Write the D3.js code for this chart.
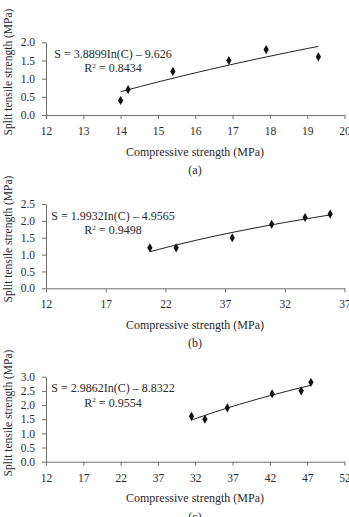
<!DOCTYPE html>
<html>
<head>
<meta charset="utf-8">
<script src="https://cdn.jsdelivr.net/npm/d3@7/dist/d3.min.js"></script>
<style>
  html, body { margin: 0; padding: 0; background: #fff; }
  svg { display: block; }
  text { font-family: "Liberation Serif", "Times New Roman", serif; fill: #2a2a2a; }
</style>
</head>
<body>
<svg id="chart" width="349" height="517"></svg>
<script>
// ---------- Data ----------
// Panel (a)
const compA = [14.0, 14.2, 15.4, 16.9, 17.9, 19.3];
const splitA = [0.4, 0.7, 1.2, 1.5, 1.8, 1.6];
const xTicksA = [12, 13, 14, 15, 16, 17, 18, 19, 20];
const xTickLabelsA = ["12", "13", "14", "15", "16", "17", "18", "19", "20"];
const yTicksA = [0.0, 0.5, 1.0, 1.5, 2.0];
const fitA = [3.8899, -9.626];
const eqA = ["S = 3.8899In(C) \u2013 9.626", "0.8434"];

// Panel (b)
const compB = [20.7, 22.9, 27.6, 30.9, 33.7, 35.8];
const splitB = [1.2, 1.2, 1.5, 1.9, 2.1, 2.2];
const xTicksB = [12, 17, 22, 27, 32, 37];
const xTickLabelsB = ["12", "17", "22", "37", "32", "37"];
const yTicksB = [0.0, 0.5, 1.0, 1.5, 2.0, 2.5];
const fitB = [1.9932, -4.9565];
const eqB = ["S = 1.9932In(C) \u2013 4.9565", "0.9498"];

// Panel (c)
const compC = [31.5, 33.3, 36.3, 42.3, 46.2, 47.5];
const splitC = [1.6, 1.5, 1.9, 2.4, 2.5, 2.8];
const xTicksC = [12, 17, 22, 27, 32, 37, 42, 47, 52];
const xTickLabelsC = ["12", "17", "22", "37", "32", "37", "42", "47", "52"];
const yTicksC = [0.0, 0.5, 1.0, 1.5, 2.0, 2.5, 3.0];
const fitC = [2.9862, -8.8322];
const eqC = ["S = 2.9862In(C) \u2013 8.8322", "0.9554"];

const panelLabels = ["(a)", "(b)", "(c)"];
const xTitle = "Compressive strength (MPa)";
const yTitle = "Split tensile strength (MPa)";

// ---------- Layout ----------
const panels = [
  { x: compA, y: splitA, xt: xTicksA, xl: xTickLabelsA, yt: yTicksA, fit: fitA, eq: eqA,
    label: panelLabels[0], top: 42.3, bottom: 115, titleMid: 72 },
  { x: compB, y: splitB, xt: xTicksB, xl: xTickLabelsB, yt: yTicksB, fit: fitB, eq: eqB,
    label: panelLabels[1], top: 204, bottom: 288.3, titleMid: 239 },
  { x: compC, y: splitC, xt: xTicksC, xl: xTickLabelsC, yt: yTicksC, fit: fitC, eq: eqC,
    label: panelLabels[2], top: 376.7, bottom: 461.7, titleMid: 413 }
];

const left = 46, right = 344.5;
const svg = d3.select("#chart");
const axisColor = "#6e6e6e";

panels.forEach(p => {
  const xs = d3.scaleLinear().domain([p.xt[0], p.xt[p.xt.length - 1]]).range([left, right]);
  const ys = d3.scaleLinear().domain([p.yt[0], p.yt[p.yt.length - 1]]).range([p.bottom, p.top]);
  const g = svg.append("g");

  // x axis
  const xAxis = d3.axisBottom(xs).tickValues(p.xt)
    .tickFormat((d, i) => p.xl[i]).tickSizeInner(4).tickSizeOuter(0).tickPadding(8);
  const gx = g.append("g").attr("transform", `translate(0,${p.bottom})`).call(xAxis);
  gx.selectAll("path, line").attr("stroke", axisColor).attr("stroke-width", 1);
  gx.selectAll("text").attr("font-size", 11.5).attr("font-family", "Liberation Serif").attr("fill", "#2a2a2a");

  // y axis
  const yAxis = d3.axisLeft(ys).tickValues(p.yt)
    .tickFormat(d3.format(".1f")).tickSizeInner(4).tickSizeOuter(0).tickPadding(7);
  const gy = g.append("g").attr("transform", `translate(${left},0)`).call(yAxis);
  gy.selectAll("path, line").attr("stroke", axisColor).attr("stroke-width", 1);
  gy.selectAll("text").attr("font-size", 11.5).attr("font-family", "Liberation Serif").attr("fill", "#2a2a2a");

  // trend line (logarithmic fit printed on the chart)
  const x0 = d3.min(p.x), x1 = d3.max(p.x);
  const tr = d3.range(0, 21).map(i => {
    const c = x0 + (x1 - x0) * i / 20;
    return [c, p.fit[0] * Math.log(c) + p.fit[1]];
  });
  g.append("path").datum(tr)
    .attr("d", d3.line().x(d => xs(d[0])).y(d => ys(d[1])))
    .attr("fill", "none").attr("stroke", "#222").attr("stroke-width", 1);

  // points
  g.selectAll(".pt").data(p.x.map((v, i) => [v, p.y[i]])).join("path")
    .attr("class", "pt")
    .attr("d", d3.symbol().type(d3.symbolDiamond).size(24))
    .attr("transform", d => `translate(${xs(d[0])},${ys(d[1])})`)
    .attr("fill", "#111");

  // equation
  const eqX = 113;
  const eqY = p.top + 15.5;
  g.append("text").attr("x", eqX).attr("y", eqY).attr("text-anchor", "middle")
    .attr("font-size", 12).text(p.eq[0]);
  const r2 = g.append("text").attr("x", eqX).attr("y", eqY + 14.5).attr("text-anchor", "middle")
    .attr("font-size", 12);
  r2.append("tspan").text("R");
  r2.append("tspan").attr("font-size", 7).attr("dy", -4.5).text("2");
  r2.append("tspan").attr("dy", 4.5).text(" = " + p.eq[1]);

  // axis titles
  g.append("text").attr("x", 195).attr("y", p.bottom + 40.5).attr("text-anchor", "middle")
    .attr("font-size", 12).text(xTitle);
  g.append("text").attr("transform", `translate(12,${p.titleMid}) rotate(-90)`)
    .attr("text-anchor", "middle").attr("font-size", 11.5).text(yTitle);
  g.append("text").attr("x", 195).attr("y", p.bottom + 59).attr("text-anchor", "middle")
    .attr("font-size", 12).text(p.label);
});
</script>
</body>
</html>
